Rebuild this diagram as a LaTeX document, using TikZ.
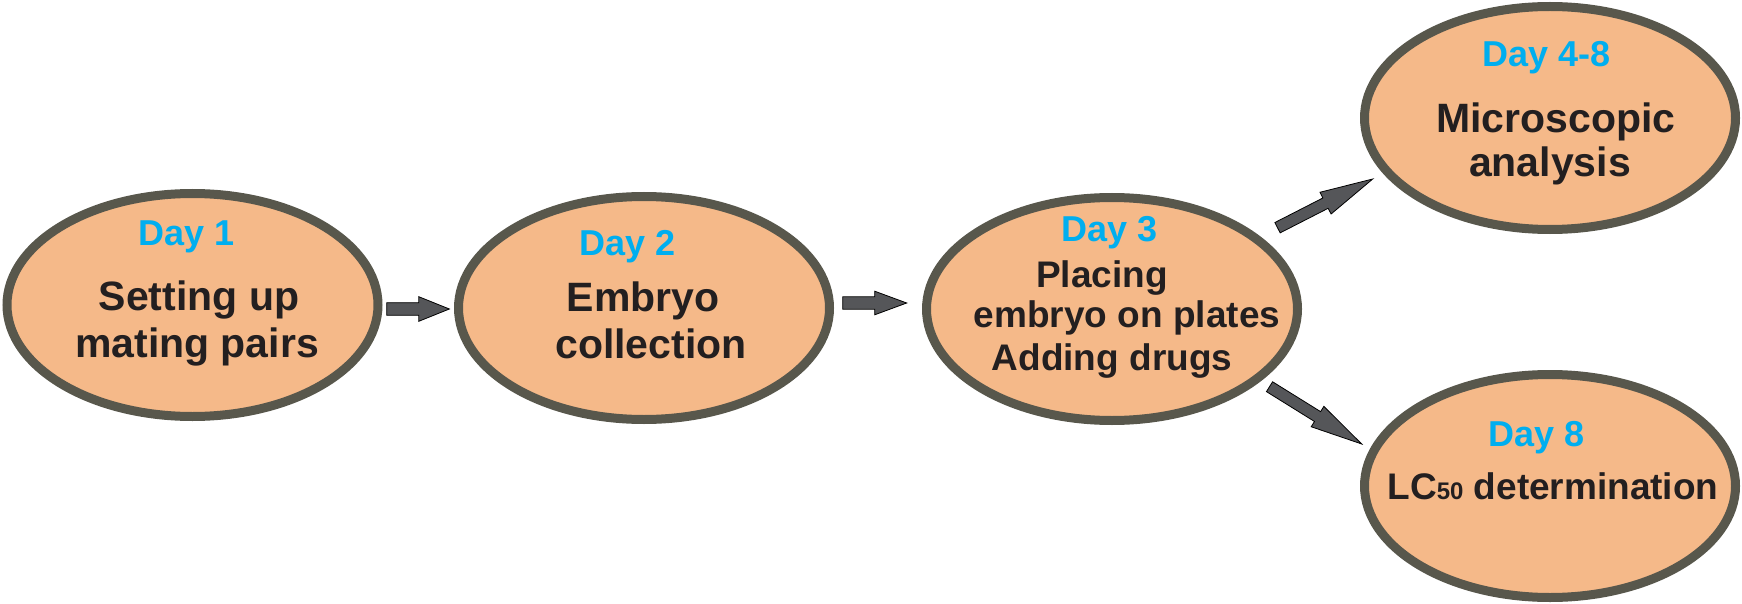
\documentclass[tikz,border=0pt]{standalone}
\usepackage{fontspec}
\setmainfont{Liberation Sans}
\usetikzlibrary{calc,shapes.geometric}
\definecolor{peach}{RGB}{245,185,137}
\definecolor{rim}{RGB}{88,87,76}
\definecolor{dayblue}{RGB}{0,174,239}
\definecolor{ink}{RGB}{35,31,32}
\definecolor{arrowgray}{RGB}{85,86,89}
\newcommand\drawblockarrow[5]{%
  \draw[blockarrowstyle] let \p1=(#1), \p2=(#2), \n1={atan2(\y2-\y1,\x2-\x1)} in
    ($(#1)+(\n1+90:#3)$) -- ($(#2)+(\n1+180:#5)+(\n1+90:#3)$)
    -- ($(#2)+(\n1+180:#5)+(\n1+90:#4)$) -- (#2)
    -- ($(#2)+(\n1+180:#5)+(\n1-90:#4)$) -- ($(#2)+(\n1+180:#5)+(\n1-90:#3)$)
    -- ($(#1)+(\n1-90:#3)$) -- cycle;}
\begin{document}
\begin{tikzpicture}[x=1pt,y=1pt,
  stage/.style={ellipse, draw=rim, fill=peach, line width=9pt,
    minimum width=371pt, minimum height=223pt, inner sep=0pt},
  daytxt/.style={anchor=base, inner sep=0pt, text=dayblue,
    font=\fontsize{36}{43}\selectfont\bfseries},
  bigtxt/.style={anchor=base, inner sep=0pt, text=ink,
    font=\fontsize{41}{47}\selectfont\bfseries},
  midtxt/.style={anchor=base, inner sep=0pt, text=ink,
    font=\fontsize{37}{42}\selectfont\bfseries},
  blockarrowstyle/.style={fill=arrowgray, draw=black, line width=0.8pt, line join=miter}]
\useasboundingbox (0,0) rectangle (1742,-604);

% stages
\node[stage] (e1) at (192.5,-305) {};
\node[stage] (e2) at (644,-308) {};
\node[stage] (e3) at (1112,-309) {};
\node[stage] (e4) at (1550,-118) {};
\node[stage] (e5) at (1550,-486) {};

% texts
\node[daytxt] (d1) at ($(e1)+(-5.5,60)$) {Day 1};
\node[bigtxt] (t1a) at ($(e1)+(6.5,-5)$) {Setting up};
\node[bigtxt] (t1b) at ($(e1)+(4.5,-52)$) {mating pairs};

\node[daytxt] (d2) at ($(e2)+(-16,53)$) {Day 2};
\node[bigtxt] (t2a) at ($(e2)+(-1,-3)$) {Embryo};
\node[bigtxt] (t2b) at ($(e2)+(7,-50)$) {collection};

\node[daytxt] (d3) at ($(e3)+(-2,68)$) {Day 3};
\node[midtxt] (t3a) at ($(e3)+(-10,22)$) {Placing};
\node[midtxt] (t3b) at ($(e3)+(15,-18)$) {embryo on plates};
\node[midtxt] (t3c) at ($(e3)+(0,-61)$) {Adding drugs};

\node[daytxt] (d4) at ($(e4)+(-3,51)$) {Day 4-8};
\node[bigtxt] (t4a) at ($(e4)+(6,-15)$) {Microscopic};
\node[bigtxt] (t4b) at ($(e4)+(0,-59)$) {analysis};

\node[daytxt] (d5) at ($(e5)+(-13,40)$) {Day 8};
\node[midtxt] (t5a) at ($(e5)+(3,-13)$) {LC{\fontsize{24}{24}\selectfont 50} determination};

% arrow end points
\coordinate (a1s) at ($(e1)+(194.2,-4)$);
\coordinate (a1e) at ($(e2)+(-194.7,-1)$);
\coordinate (a2s) at ($(e2)+(198.7,5)$);
\coordinate (a2e) at ($(e3)+(-205.3,6)$);
\coordinate (a3s) at ($(e3)+(165.5,81.3)$);
\coordinate (a3e) at ($(e4)+(-177.3,-61)$);
\coordinate (a4s) at ($(e3)+(157.5,-77.7)$);
\coordinate (a4e) at ($(e5)+(-188.3,42)$);

\drawblockarrow{a1s}{a1e}{6.3pt}{12.3pt}{30.5pt}
\drawblockarrow{a2s}{a2e}{6.2pt}{11.8pt}{32pt}
\drawblockarrow{a3s}{a3e}{5.8pt}{12.2pt}{53pt}
\drawblockarrow{a4s}{a4e}{5.8pt}{12pt}{52pt}
\end{tikzpicture}
\end{document}
